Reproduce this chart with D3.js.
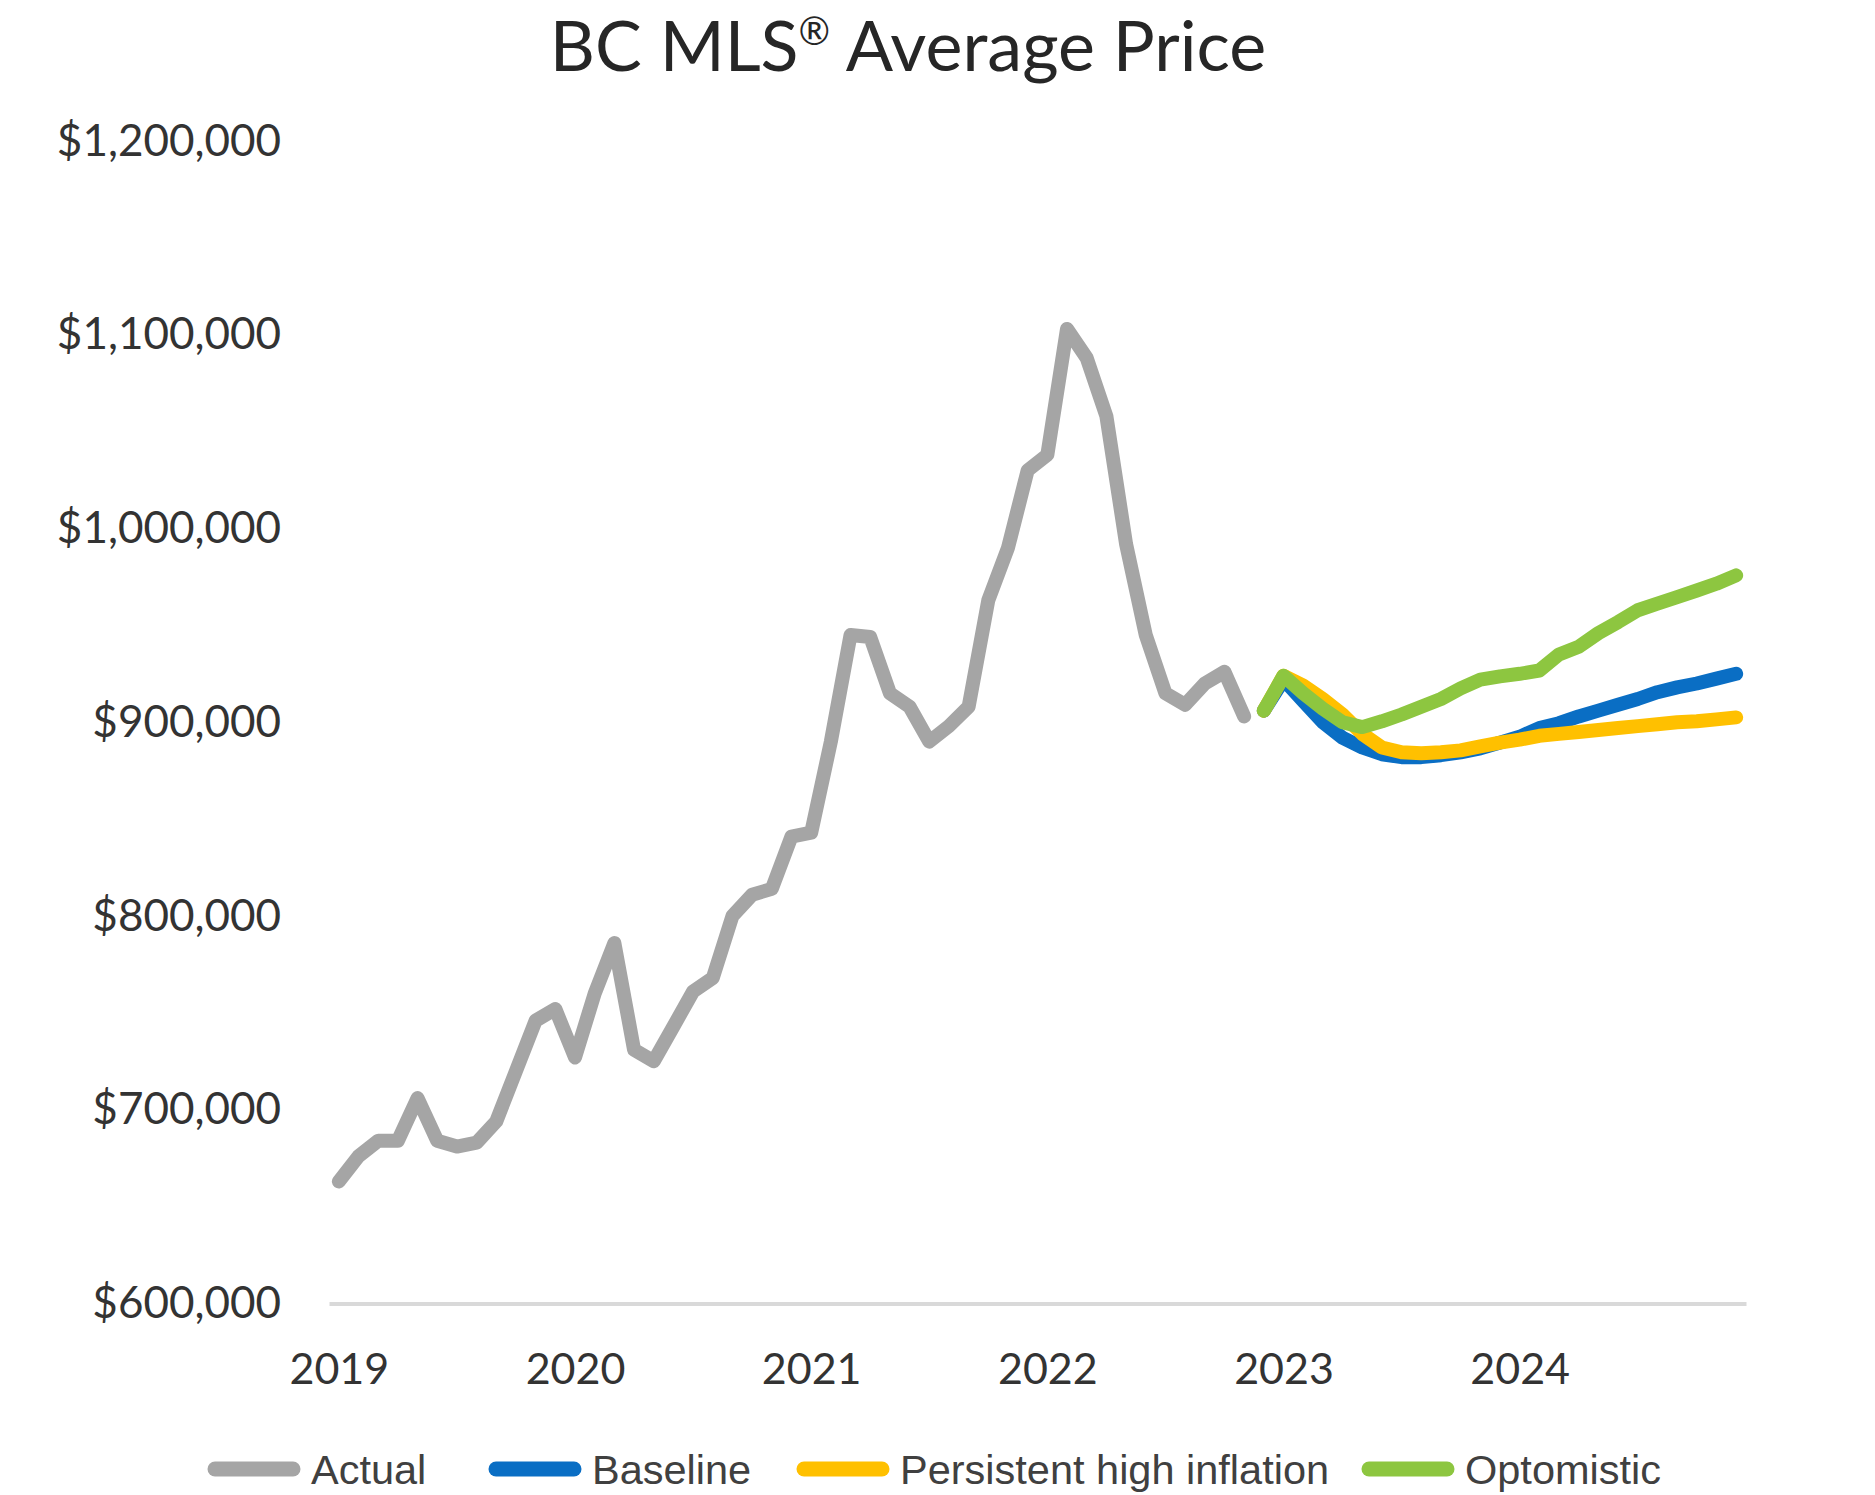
<!DOCTYPE html>
<html>
<head>
<meta charset="utf-8">
<script src="https://cdn.jsdelivr.net/npm/d3@7"></script>
<style>
  html, body { margin: 0; padding: 0; background: #ffffff; }
  svg { display: block; }
</style>
</head>
<body>
<svg id="chart" width="1875" height="1495"></svg>
<script>
// ---------- data ----------
const years = ["2019", "2020", "2021", "2022", "2023", "2024"];
const monthNums = ["01","02","03","04","05","06","07","08","09","10","11","12"];
const months = years.flatMap(y => monthNums.map(m => `${y}-${m}`));

// Actual: Jan 2019 .. Nov 2022
const actual = [663000, 676000, 684000, 684000, 706000, 684000, 681000, 683000, 694000, 720000, 746000, 752000,
                727000, 760000, 786000, 731000, 725000, 743000, 761000, 768000, 800000, 811000, 814000, 841000,
                843000, 890000, 945000, 944000, 915000, 908000, 890000, 898000, 908000, 963000, 990000, 1030000,
                1038000, 1103000, 1088000, 1058000, 992000, 945000, 915000, 909000, 920000, 926000, 903000];
// Forecasts: Dec 2022 .. Dec 2024
const forecastStart = 47;
const baseline = [906000, 922000, 911000, 900000, 892000, 887000, 883500, 882000, 882000, 883000, 884500, 886500,
                  889500, 892500, 897000, 899500, 903000, 906000, 909000, 912000, 915500, 918000, 920000, 922500, 925000];
const persistent = [906000, 924000, 919000, 912000, 904000, 894000, 887000, 884500, 884000, 884500, 885500, 887500,
                    889500, 891000, 893000, 894000, 895000, 896000, 897000, 898000, 899000, 900000, 900500, 901500, 902500];
const optimistic = [906000, 924000, 915000, 907000, 900000, 897500, 900500, 904000, 908000, 912000, 917500, 922000,
                    923700, 925000, 926700, 935000, 939000, 946000, 951700, 957800, 961200, 964600, 968000, 971500, 975800];

const yTicks = [600000, 700000, 800000, 900000, 1000000, 1100000, 1200000];
const seriesNames = ["Actual", "Baseline", "Persistent high inflation", "Optomistic"];
const seriesColors = ["#A5A5A5", "#0A6EC4", "#FFC000", "#8DC640"];
const titleMain = "BC MLS";
const titleSup = "®";
const titleRest = " Average Price";

// ---------- layout ----------
const svg = d3.select("#chart");
const x = d3.scalePoint().domain(months).range([329, 1746]).padding(0.5);
const y = d3.scaleLinear().domain([600000, 1200000]).range([1303.5, 141]);

const lineGen = d3.line()
  .x(d => x(d.m))
  .y(d => y(d.v));

const seriesData = [
  actual.map((v, i) => ({ m: months[i], v })),
  baseline.map((v, i) => ({ m: months[forecastStart + i], v })),
  persistent.map((v, i) => ({ m: months[forecastStart + i], v })),
  optimistic.map((v, i) => ({ m: months[forecastStart + i], v }))
];

// title
const title = svg.append("text")
  .attr("x", 908).attr("y", 71)
  .attr("text-anchor", "middle")
  .style("font-family", "Lato, 'Open Sans', sans-serif")
  .style("font-size", "70px")
  .style("fill", "#262626");
title.append("tspan").text(titleMain);
title.append("tspan").text(titleSup).attr("dy", -26).style("font-size", "38px");
title.append("tspan").text(titleRest).attr("dy", 26);

// y axis labels (no axis line)
const yAxis = d3.axisLeft(y).tickValues(yTicks).tickSize(0).tickPadding(0)
  .tickFormat(d => "$" + d3.format(",")(d));
const gy = svg.append("g").attr("transform", "translate(281,0)").call(yAxis);
gy.select(".domain").remove();
gy.selectAll("text")
  .style("font-family", "Lato, 'Open Sans', sans-serif")
  .style("font-size", "44px")
  .style("fill", "#333333");

// x axis baseline and year labels
const xAxis = d3.axisBottom(x)
  .tickValues(years.map(yy => `${yy}-01`))
  .tickSize(0).tickPadding(0)
  .tickFormat(d => d.slice(0, 4));
const gx = svg.append("g").attr("transform", `translate(0,${y(600000)})`).call(xAxis);
gx.select(".domain").attr("stroke", "#D9D9D9").attr("stroke-width", 4);
gx.selectAll("text")
  .attr("y", 65).attr("dy", "0.35em")
  .style("font-family", "Lato, 'Open Sans', sans-serif")
  .style("font-size", "43px")
  .style("fill", "#333333");

// lines
svg.append("g").selectAll("path")
  .data(seriesData)
  .join("path")
  .attr("d", lineGen)
  .attr("fill", "none")
  .attr("stroke", (d, i) => seriesColors[i])
  .attr("stroke-width", 14)
  .attr("stroke-linejoin", "round")
  .attr("stroke-linecap", "round");

// legend
const legendItems = [
  { name: seriesNames[0], color: seriesColors[0], x0: 215 },
  { name: seriesNames[1], color: seriesColors[1], x0: 496 },
  { name: seriesNames[2], color: seriesColors[2], x0: 804 },
  { name: seriesNames[3], color: seriesColors[3], x0: 1369 }
];
const lg = svg.append("g");
const legendY = 1469;
const li = lg.selectAll("g").data(legendItems).join("g");
li.append("line")
  .attr("x1", d => d.x0).attr("x2", d => d.x0 + 78)
  .attr("y1", legendY).attr("y2", legendY)
  .attr("stroke", d => d.color)
  .attr("stroke-width", 15)
  .attr("stroke-linecap", "round");
li.append("text")
  .attr("x", d => d.x0 + 96)
  .attr("y", legendY + 15)
  .text(d => d.name)
  .style("font-family", "'Liberation Sans', Arial, sans-serif")
  .style("font-size", "41.5px")
  .style("fill", "#404040");
</script>
</body>
</html>
